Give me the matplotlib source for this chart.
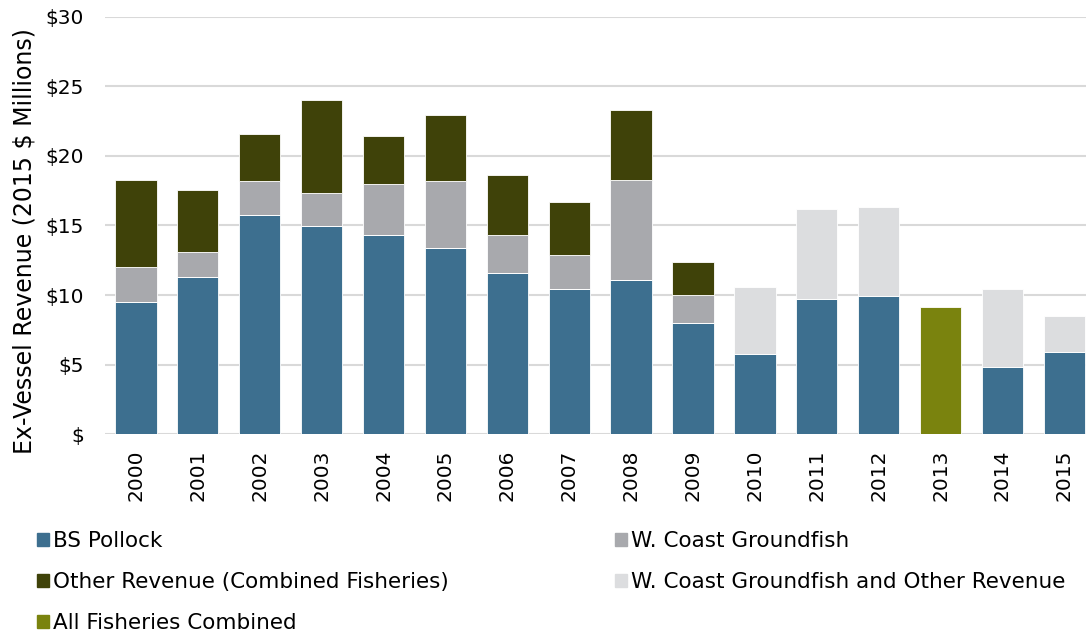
import numpy as np
import matplotlib
matplotlib.use("Agg")
import matplotlib.pyplot as plt
from matplotlib.patches import Patch
from matplotlib.ticker import FuncFormatter

plt.rcParams['font.family'] = ['DejaVu Sans']

years = [str(y) for y in range(2000, 2016)]
bs_pollock = [9.51, 11.28, 15.76, 14.97, 14.34, 13.36, 11.59, 10.45, 11.11, 8.02,
              5.77, 9.72, 9.94, 0, 4.86, 5.94]
wc_groundfish = [2.49, 1.82, 2.44, 2.39, 3.64, 4.82, 2.75, 2.45, 7.16, 1.97,
                 0, 0, 0, 0, 0, 0]
other_revenue = [6.25, 4.48, 3.35, 6.66, 3.48, 4.78, 4.27, 3.79, 5.01, 2.41,
                 0, 0, 0, 0, 0, 0]
wc_and_other = [0, 0, 0, 0, 0, 0, 0, 0, 0, 0,
                4.81, 6.47, 6.37, 0, 5.56, 2.56]
all_combined = [0, 0, 0, 0, 0, 0, 0, 0, 0, 0,
                0, 0, 0, 9.15, 0, 0]

c_blue = "#3D6F8F"
c_gray = "#A8A9AD"
c_dark = "#3F4209"
c_light = "#DCDDDF"
c_olive = "#7A830E"

fig = plt.figure(figsize=(10.86, 6.37), dpi=100)
ax = fig.add_axes([0.0967, 0.3182, 0.9033, 0.6556])

x = np.arange(len(years))
w = 0.667
b1 = np.array(bs_pollock)
b2 = b1 + np.array(wc_groundfish)

ax.bar(x, bs_pollock, w, color=c_blue, edgecolor="white", linewidth=0.6, zorder=3)
ax.bar(x, wc_groundfish, w, bottom=b1, color=c_gray, edgecolor="white", linewidth=0.6, zorder=3)
ax.bar(x, other_revenue, w, bottom=b2, color=c_dark, edgecolor="white", linewidth=0.6, zorder=3)
ax.bar(x, wc_and_other, w, bottom=b1, color=c_light, edgecolor="white", linewidth=0.6, zorder=3)
ax.bar(x, all_combined, w, color=c_olive, edgecolor="white", linewidth=0.6, zorder=3)

ax.set_xlim(-0.5, 15.35)
ax.set_ylim(0, 30)
ax.set_yticks(range(0, 31, 5))
ax.yaxis.set_major_formatter(FuncFormatter(lambda v, p: f"${int(v)}" if v else "$"))
ax.set_xticks(x)
ax.set_xticklabels(years, rotation=90)
ax.tick_params(length=0, labelsize=14.5, colors="black")
ax.tick_params(axis="x", pad=11)
ax.tick_params(axis="y", pad=15)
ax.grid(axis="y", color="#D9D9D9", linewidth=1.5, zorder=0)
for s in ax.spines.values():
    s.set_visible(False)
ax.set_ylabel("Ex-Vessel Revenue (2015 $ Millions)", fontsize=17)
ax.yaxis.set_label_coords(-0.07, 0.4616)

handles = [
    Patch(color=c_blue, label="BS Pollock"),
    Patch(color=c_dark, label="Other Revenue (Combined Fisheries)"),
    Patch(color=c_olive, label="All Fisheries Combined"),
    Patch(color=c_gray, label="W. Coast Groundfish"),
    Patch(color=c_light, label="W. Coast Groundfish and Other Revenue"),
]
fig.legend(handles=handles, loc="upper left", bbox_to_anchor=(0.034, 0.166),
           ncol=2, frameon=False, fontsize=15.5, handlelength=0.56, handleheight=0.56,
           handletextpad=0.19, columnspacing=7.7, labelspacing=0.98,
           borderaxespad=0, borderpad=0)

fig.savefig("out.png", dpi=100)
